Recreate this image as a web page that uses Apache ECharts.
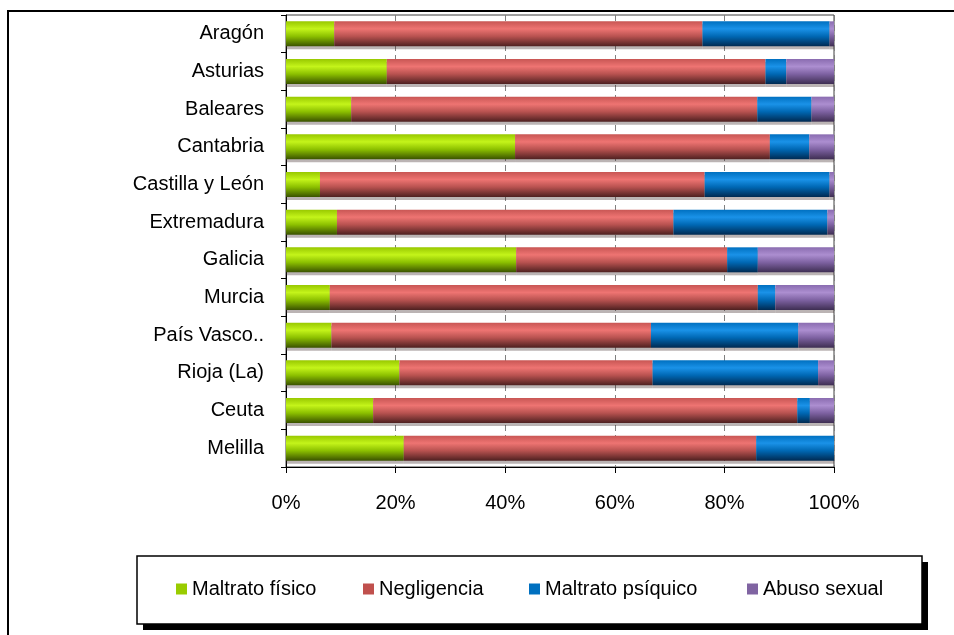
<!DOCTYPE html>
<html>
<head>
<meta charset="utf-8">
<script src="https://cdn.jsdelivr.net/npm/echarts@6/dist/echarts.min.js"></script>
<style>
html,body{margin:0;padding:0;background:#fff;}
#c{width:954px;height:635px;}
</style>
</head>
<body>
<div id="c"></div>
<script>
const categories = ["Aragón","Asturias","Baleares","Cantabria","Castilla y León","Extremadura","Galicia","Murcia","País Vasco..","Rioja (La)","Ceuta","Melilla"];
const seriesNames = ["Maltrato físico","Negligencia","Maltrato psíquico","Abuso sexual"];
const maltratoFisico   = [8.8, 18.4, 11.9, 41.8, 6.2, 9.3, 42.0, 8.0, 8.3, 20.7, 15.9, 21.5];
const negligencia      = [67.2, 69.1, 74.1, 46.5, 70.2, 61.4, 38.5, 78.1, 58.3, 46.2, 77.4, 64.3];
const maltratoPsiquico = [23.2, 3.8, 9.9, 7.2, 22.8, 28.1, 5.6, 3.2, 26.9, 30.2, 2.3, 14.2];
const abusoSexual      = [0.8, 8.7, 4.1, 4.5, 0.8, 1.2, 13.9, 10.7, 6.5, 2.9, 4.4, 0.0];
const tickValues = [0, 20, 40, 60, 80, 100];

const FONT = "'Liberation Sans', Arial, sans-serif";
function grad(top, hi, mid, bot){
  return {type:'linear',x:0,y:0,x2:0,y2:1,colorStops:[
    {offset:0,color:top},{offset:0.3,color:hi},{offset:0.6,color:mid},{offset:1,color:bot}]};
}
const fills = [
  grad('#98c800','#c4f41a','#8cc000','#3a5200'),
  grad('#c85654','#ee7472','#b85250','#4e2020'),
  grad('#0070c0','#1a92e8','#0068b4','#002a52'),
  grad('#8a6cb0','#ac8ed0','#7e62a2','#3e2e52')
];
const flat = ['#99cc00','#c0504d','#0070c0','#8064a2'];
const dataArr = [maltratoFisico, negligencia, maltratoPsiquico, abusoSexual];
const legendX = [176, 363, 529, 747];

const chart = echarts.init(document.getElementById('c'), null, {renderer:'canvas'});
chart.setOption({
  animation:false,
  backgroundColor:'#ffffff',
  textStyle:{fontFamily:FONT},
  grid:{left:286, right:120, top:15, bottom:168, show:true, borderColor:'#404040', borderWidth:1},
  xAxis:{
    type:'value', min:0, max:100, interval:20,
    axisLine:{show:true, lineStyle:{color:'#000', width:1}},
    axisTick:{show:true, length:6, lineStyle:{color:'#000'}},
    axisLabel:{formatter: v => tickValues.indexOf(v) >= 0 ? v + '%' : '', fontSize:20, color:'#000', fontFamily:FONT, margin:26},
    splitLine:{show:true, lineStyle:{color:'#808080', type:[6,4], width:1}}
  },
  yAxis:{
    type:'category', inverse:true, data:categories,
    axisLine:{show:true, lineStyle:{color:'#000', width:1}},
    axisTick:{show:true, length:5, lineStyle:{color:'#000'}},
    axisLabel:{fontSize:20, color:'#000', fontFamily:FONT, margin:22}
  },
  legend: seriesNames.map((n,i)=>({
    data:[{name:n, itemStyle:{color:flat[i]}}],
    left:legendX[i], top:579, itemWidth:11, itemHeight:11, itemGap:5,
    icon:'rect',
    textStyle:{fontSize:20, color:'#000', fontFamily:FONT, padding:[0,0,0,0]},
    padding:0
  })),
  graphic:[
    {type:'rect', z:-10, shape:{x:8, y:11, width:1000, height:700}, style:{fill:'none', stroke:'#000', lineWidth:2}},
    {type:'rect', z:-5, shape:{x:143, y:562, width:785, height:68}, style:{fill:'#000'}},
    {type:'rect', z:-4, shape:{x:137, y:556, width:785, height:68}, style:{fill:'#fff', stroke:'#000', lineWidth:1.5}}
  ],
  series: seriesNames.map((n,i)=>({
    name:n, type:'bar', stack:'total', data:dataArr[i], barWidth:25,
    itemStyle:{color:fills[i], shadowColor:'rgba(60,40,40,0.35)', shadowOffsetY:3, shadowBlur:0}
  }))
});
</script>
</body>
</html>
